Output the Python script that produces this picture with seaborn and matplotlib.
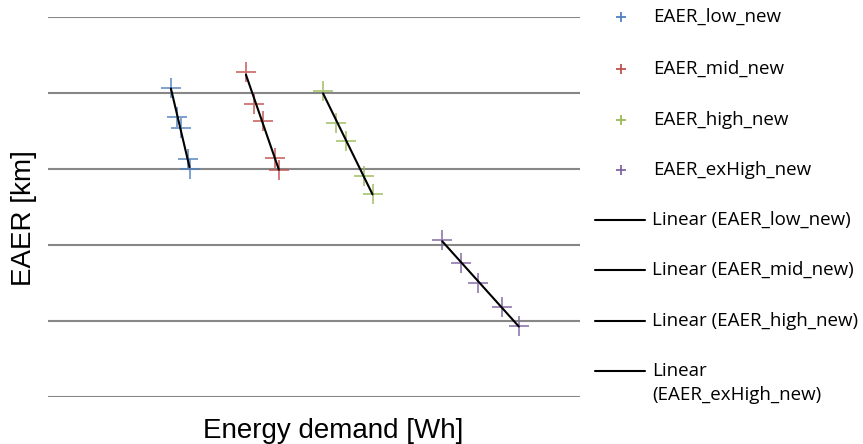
import matplotlib
matplotlib.use("Agg")
import matplotlib.pyplot as plt
from matplotlib.lines import Line2D
import seaborn as sns
import pandas as pd

# Energy demand [Wh] and EAER [km] per scenario
low_x = [231, 242, 250, 263, 266]
low_y = [407, 369, 354, 313, 300]
mid_x = [372, 388, 404, 426, 434]
mid_y = [427, 386, 363, 315, 299]
high_x = [517, 541, 560, 594, 610]
high_y = [403, 361, 337, 291, 267]
exhigh_x = [741, 777, 808, 853, 885]
exhigh_y = [207, 176, 150, 118, 94]

series_names = ["EAER_low_new", "EAER_mid_new", "EAER_high_new", "EAER_exHigh_new"]
series_x = [low_x, mid_x, high_x, exhigh_x]
series_y = [low_y, mid_y, high_y, exhigh_y]
colors = ["#4F81BD", "#C0504D", "#9BBB59", "#8064A2"]

sns.set_theme(style="white")
plt.rcParams["font.family"] = ["Open Sans", "DejaVu Sans"]
plt.rcParams["text.color"] = "black"

fig = plt.figure(figsize=(8.63, 4.44), dpi=100)
ax = fig.add_axes([48 / 863, 47 / 444, 532 / 863, 380 / 444])

for name, xs, ys, c in zip(series_names, series_x, series_y, colors):
    df = pd.DataFrame({"x": xs, "y": ys})
    sns.regplot(data=df, x="x", y="y", ax=ax, marker="+", color=c, ci=None,
                scatter_kws={"s": 190, "linewidths": 1.3, "color": c},
                line_kws={"color": "black", "lw": 1.5})

ax.set_xlim(0, 1000)
ax.set_ylim(0, 500)
ax.set_yticks(range(0, 501, 100))
ax.set_xticks([])
ax.tick_params(left=False, bottom=False, labelleft=False, labelbottom=False)
ax.yaxis.grid(True, color="#878787", lw=1.5)
for s in ax.spines.values():
    s.set_visible(False)
ax.set_xlabel("")
ax.set_ylabel("")

H, W = 444, 863
label_font = ["Liberation Sans Narrow", "Liberation Sans", "DejaVu Sans"]
fig.text(333 / W, 1 - 438 / H, "Energy demand [Wh]", ha="center", va="baseline",
         fontsize=20, family=label_font)
fig.text(24 / W, 1 - 218 / H, "EAER [km]", ha="center", va="center",
         rotation=90, fontsize=20, family=label_font)

# Legend entries: scatter markers, then trend lines
legend_size = 13.5
marker_rows = [17, 69, 120, 170]
for name, c, yy in zip(series_names, colors, marker_rows):
    fig.add_artist(Line2D([621 / W], [1 - yy / H], marker="+", color=c,
                          markersize=7, markeredgewidth=1.3, linestyle="none"))
    fig.text(653 / W, 1 - yy / H, name, ha="left", va="center", fontsize=legend_size)

line_rows = [220, 270, 321, 371]
line_labels = ["Linear (EAER_low_new)", "Linear (EAER_mid_new)",
               "Linear (EAER_high_new)", "Linear"]
for lab, yy in zip(line_labels, line_rows):
    fig.add_artist(Line2D([595 / W, 645 / W], [1 - yy / H, 1 - yy / H],
                          color="black", lw=1.5))
    fig.text(652 / W, 1 - yy / H, lab, ha="left", va="center", fontsize=legend_size)
fig.text(652 / W, 1 - 395 / H, "(EAER_exHigh_new)", ha="left", va="center",
         fontsize=legend_size)

fig.savefig("out.png", dpi=100)
